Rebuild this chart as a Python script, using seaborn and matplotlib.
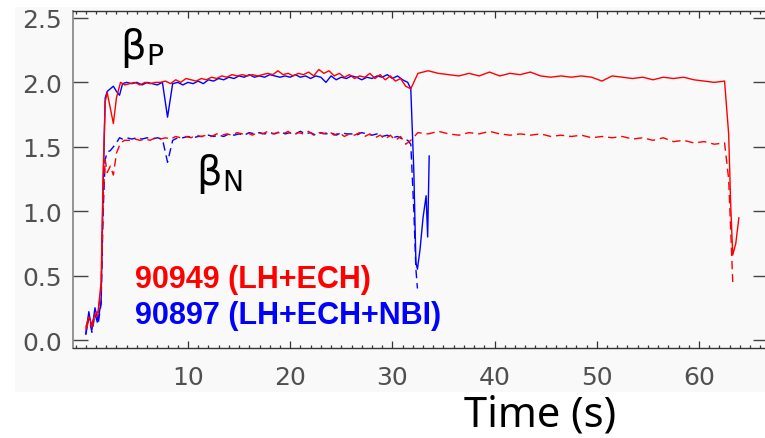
import numpy as np
import pandas as pd
import matplotlib
matplotlib.use("Agg")
import matplotlib.pyplot as plt
import seaborn as sns
from matplotlib.patches import Rectangle
from matplotlib.ticker import MultipleLocator

sns.set_style("white")
plt.rcParams["font.family"] = ["DejaVu Sans"]
plt.rcParams["mathtext.fontset"] = "dejavusans"

nan = np.nan

# ---------------- data: shot 90949 (LH+ECH) ----------------
t_red = [
    0.0, 0.3, 0.6, 0.9, 1.2, 1.5, 1.7, 1.9, 2.1, 2.4, 2.7, 3.0, 3.4, 3.8,
    4.3, 4.8, 5.3, 5.8, 6.3, 6.8, 7.3, 7.8, 8.3, 8.8,
    9.3, 9.8, 10.3, 10.8, 11.3, 11.8, 12.3, 12.8, 13.3, 13.8,
    14.3, 14.8, 15.3, 15.8, 16.3, 16.8, 17.3, 17.8, 18.3, 18.8,
    19.3, 19.8, 20.3, 20.8, 21.3, 21.8, 22.3, 22.8, 23.3, 23.8,
    24.3, 24.8, 25.3, 25.8, 26.3, 26.8, 27.3, 27.8, 28.3, 28.8,
    29.3, 29.8, 30.3, 30.8, 31.3, 31.8,
    32.5, 33.5, 34.5, 35.5, 36.5, 37.5, 38.5, 39.5, 40.5, 41.5,
    42.5, 43.5, 44.5, 45.5, 46.5, 47.5, 48.5, 49.5, 50.5, 51.5,
    52.5, 53.5, 54.5, 55.5, 56.5, 57.5, 58.5, 59.5, 60.5, 61.5, 62.5,
    62.9, 63.1, 63.3, 63.6, 63.9,
]
bp_red = [
    0.10, 0.18, 0.12, 0.20, 0.22, 0.45, 1.30, 1.85, 1.92, 1.80, 1.68, 1.88, 2.00, 1.98,
    1.99, 2.00, 1.98, 2.00, 1.99, 2.00, 2.00, 2.01, 1.99, 2.02,
    2.00, 2.03, 2.02, 2.01, 2.03, 2.02, 2.04, 2.03, 2.05, 2.04,
    2.06, 2.05, 2.06, 2.05, 2.06, 2.05, 2.06, 2.07, 2.06, 2.09,
    2.06, 2.07, 2.05, 2.07, 2.06, 2.08, 2.05, 2.10, 2.07, 2.09,
    2.05, 2.07, 2.04, 2.06, 2.03, 2.05, 2.04, 2.07, 2.03, 2.06,
    2.02, 2.05, 2.01, 2.03, 1.97, 1.95,
    2.07, 2.09, 2.07, 2.06, 2.05, 2.07, 2.05, 2.08, 2.05, 2.07,
    2.06, 2.08, 2.05, 2.04, 2.05, 2.04, 2.05, 2.04, 2.01, 2.05,
    2.04, 2.03, 2.04, 2.02, 2.04, 2.03, 2.04, 2.02, 2.01, 2.00, 2.01,
    1.60, 1.05, 0.66, 0.75, 0.95,
]
bn_red = [
    0.08, 0.15, 0.10, 0.17, 0.20, 0.40, 1.10, 1.40, 1.30, 1.35, 1.28, 1.45, 1.53, 1.55,
    1.55, 1.56, 1.55, 1.56, 1.55, 1.57, 1.56, 1.57, 1.56, 1.58,
    1.57, 1.58, 1.57, 1.59, 1.58, 1.59, 1.58, 1.60, 1.59, 1.60,
    1.59, 1.61, 1.60, 1.61, 1.59, 1.61, 1.60, 1.62, 1.60, 1.61,
    1.60, 1.62, 1.59, 1.61, 1.60, 1.62, 1.59, 1.61, 1.60, 1.62,
    1.59, 1.61, 1.58, 1.60, 1.59, 1.61, 1.58, 1.60, 1.57, 1.59,
    1.56, 1.59, 1.55, 1.58, 1.52, 1.55,
    1.61, 1.60, 1.62, 1.60, 1.59, 1.61, 1.60, 1.62, 1.60, 1.59,
    1.60, 1.59, 1.60, 1.58, 1.59, 1.58, 1.59, 1.57, 1.58, 1.57,
    1.58, 1.56, 1.57, 1.55, 1.57, 1.54, 1.55, 1.53, 1.54, 1.52, 1.53,
    1.25, 0.85, 0.45, nan, nan,
]

# ---------------- data: shot 90897 (LH+ECH+NBI) ----------------
t_blue = [
    0.0, 0.3, 0.6, 0.9, 1.2, 1.5, 1.7, 1.9, 2.1, 2.4, 2.7, 3.0, 3.3, 3.6, 4.0,
    4.5, 5.0, 5.5, 6.0, 6.5, 7.0, 7.5, 8.0, 8.5, 9.0,
    9.5, 10.0, 10.5, 11.0, 11.5, 12.0, 12.5, 13.0, 13.5, 14.0,
    14.5, 15.0, 15.5, 16.0, 16.5, 17.0, 17.5, 18.0, 18.5, 19.0,
    19.5, 20.0, 20.5, 21.0, 21.5, 22.0, 22.5, 23.0, 23.5, 24.0,
    24.5, 25.0, 25.5, 26.0, 26.5, 27.0, 27.5, 28.0, 28.5, 29.0,
    29.5, 30.0, 30.5, 31.0, 31.5,
    31.8, 32.1, 32.3, 32.45, 32.7, 33.0, 33.3, 33.45, 33.6,
]
bp_blue = [
    0.05, 0.22, 0.08, 0.25, 0.15, 0.30, 1.20, 1.88, 1.93, 1.95, 1.97, 1.93, 1.90, 1.99, 2.00,
    1.99, 2.00, 1.98, 2.00, 1.99, 1.98, 2.00, 1.73, 1.99, 2.00,
    1.98, 2.00, 1.99, 2.01, 1.99, 2.02, 2.01, 2.03, 2.02, 2.04,
    2.03, 2.05, 2.04, 2.06, 2.04, 2.05, 2.04, 2.06, 2.05, 2.04,
    2.05, 2.04, 2.06, 2.04, 2.05, 2.03, 2.05, 2.04, 2.00, 2.05,
    2.02, 2.04, 2.03, 2.05, 2.04, 2.02, 2.04, 2.03, 2.05, 2.04,
    2.06, 2.03, 2.05, 2.02, 2.00,
    1.95, 1.30, 0.60, 0.55, 0.70, 0.95, 1.12, 0.80, 1.43,
]
bn_blue = [
    0.04, 0.18, 0.06, 0.20, 0.12, 0.28, 1.00, 1.40, 1.46, 1.47, 1.50, 1.53, 1.57, 1.56, 1.57,
    1.56, 1.57, 1.56, 1.57, 1.56, 1.57, 1.56, 1.38, 1.55, 1.57,
    1.57, 1.58, 1.57, 1.58, 1.58, 1.59, 1.58, 1.59, 1.58, 1.60,
    1.59, 1.60, 1.59, 1.61, 1.60, 1.61, 1.60, 1.61, 1.60, 1.62,
    1.60, 1.61, 1.60, 1.62, 1.60, 1.61, 1.59, 1.61, 1.60, 1.61,
    1.59, 1.61, 1.60, 1.60, 1.59, 1.61, 1.60, 1.59, 1.60, 1.58,
    1.59, 1.57, 1.58, 1.56, 1.55,
    1.52, 1.00, 0.55, 0.40, nan, nan, nan, nan, nan,
]

x_ticks = [10, 20, 30, 40, 50, 60]
y_ticks = [0.0, 0.5, 1.0, 1.5, 2.0, 2.5]
shots = ["90897", "90949"]
shot_labels = ["90949 (LH+ECH)", "90897 (LH+ECH+NBI)"]

# ---------------- build long table ----------------
frames = []
for shot, t, bp, bn in [("90897", t_blue, bp_blue, bn_blue),
                        ("90949", t_red, bp_red, bn_red)]:
    frames.append(pd.DataFrame({"t": t, "val": bp, "shot": shot, "q": "bp"}))
    frames.append(pd.DataFrame({"t": t, "val": bn, "shot": shot, "q": "bn"}))
df = pd.concat(frames, ignore_index=True)

W, H = 765, 439
fig = plt.figure(figsize=(W / 100, H / 100), dpi=100, facecolor="white")
bg = Rectangle((15 / W, (H - 393) / H), 1.0, (393 - 8) / H,
               transform=fig.transFigure, facecolor="#f9f9f9",
               edgecolor="none", zorder=-10)
fig.add_artist(bg)
ax = fig.add_axes([73 / W, (H - 349) / H, (768 - 73) / W, (349 - 12) / H])
ax.set_zorder(1)
ax.set_facecolor("#f9f9f9")

sns.lineplot(data=df, x="t", y="val", hue="shot", style="q",
             hue_order=shots, style_order=["bp", "bn"],
             palette={"90949": "#ff0000", "90897": "#0000ff"},
             dashes={"bp": "", "bn": (6, 3.5)},
             estimator=None, sort=False, legend=False, lw=1.0, ax=ax)

ax.set_xlim(-1.25, 66.75)
ax.set_ylim(-0.062, 2.554)
ax.set_xticks(x_ticks)
ax.set_xticklabels([str(v) for v in x_ticks])
ax.set_yticks(y_ticks)
ax.set_yticklabels([f"{v:.1f}" for v in y_ticks])
ax.xaxis.set_minor_locator(MultipleLocator(1))
ax.set_xlabel("")
ax.set_ylabel("")

for s in ["top", "bottom", "right"]:
    ax.spines[s].set_color("#333333")
    ax.spines[s].set_linewidth(1.0)
ax.spines["left"].set_color("#8c8c8c")
ax.spines["left"].set_linewidth(1.3)

ax.tick_params(axis="x", which="major", direction="in", length=5, width=0.9,
               top=True, bottom=True, color="#333333", labelsize=18,
               labelcolor="#505050", pad=12)
ax.tick_params(axis="x", which="minor", direction="in", length=2.5, width=0.9,
               top=True, bottom=True, color="#333333")
ax.tick_params(axis="y", which="major", direction="in", length=10.8, width=1.0,
               left=True, right=True, color="#444444", labelsize=18,
               labelcolor="#505050", pad=8)

ax.text(3.35, 2.445, r"$\mathrm{\beta}_\mathrm{P}$", fontsize=29, ha="left",
        va="top", color="black")
ax.text(10.8, 1.47, r"$\mathrm{\beta}_\mathrm{N}$", fontsize=29, ha="left",
        va="top", color="black")
ax.text(4.8, 0.414, shot_labels[0], color="#ff0000", fontsize=22,
        fontweight="bold", family="Liberation Sans", ha="left", va="baseline")
ax.text(4.8, 0.133, shot_labels[1], color="#0000ff", fontsize=22,
        fontweight="bold", family="Liberation Sans", ha="left", va="baseline")

fig.text(540 / W, 1 - 416 / H, "Time (s)", ha="center", va="center",
         fontsize=30, family="Noto Sans", color="black")

fig.savefig("out.png", dpi=100)
